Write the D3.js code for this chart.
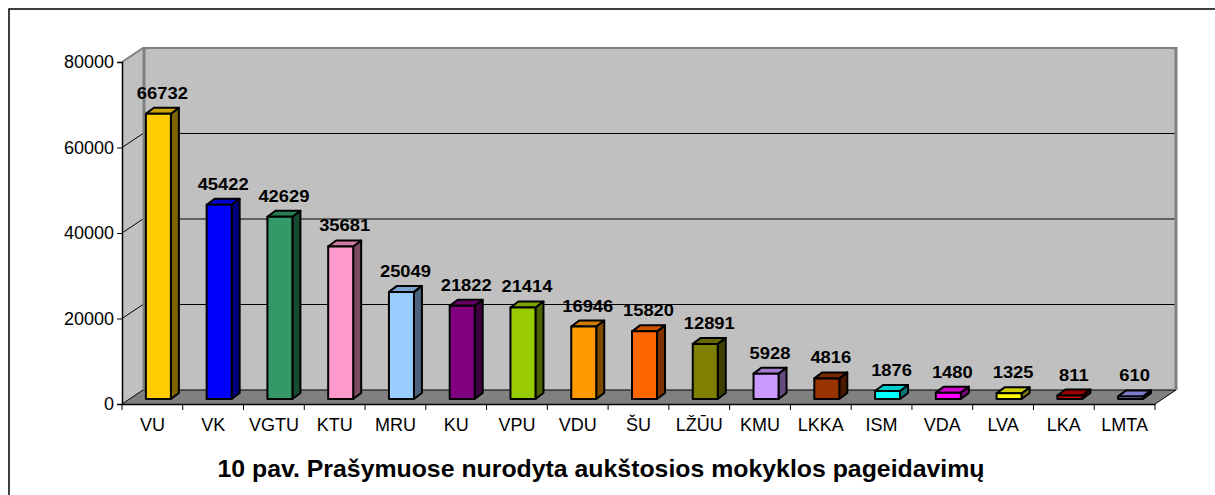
<!DOCTYPE html>
<html><head><meta charset="utf-8">
<script src="https://cdn.jsdelivr.net/npm/d3@7"></script>
<style>body{margin:0;background:#fff}svg{display:block}text{font-family:"Liberation Sans",Arial,sans-serif}</style>
</head><body><svg width="1215" height="495"></svg>
<script>
const categories = ["VU","VK","VGTU","KTU","MRU","KU","VPU","VDU","ŠU","LŽŪU","KMU","LKKA","ISM","VDA","LVA","LKA","LMTA"];
const values = [66732,45422,42629,35681,25049,21822,21414,16946,15820,12891,5928,4816,1876,1480,1325,811,610];
const colors = ["#FFCC00","#0000FF","#339966","#FF99CC","#99CCFF","#800080","#99CC00","#FF9900","#FF6600","#808000","#CC99FF","#993300","#00FFFF","#FF00FF","#FFFF00","#C00000","#9999FF"];
const yTicks = [0,20000,40000,60000,80000];
const title = "10 pav. Prašymuose nurodyta aukštosios mokyklos pageidavimų";

const svg = d3.select("svg");
const L = 122, R = 1155, T = 62, B = 404;
const DX = 21, DY = -14;      // wall depth
const BFX = 6, BFY = -5;      // bar front offset
const BDX = 8, BDY = -6;      // bar depth

const x = d3.scaleBand().domain(categories).range([L, R]).padding(0);
const y = d3.scaleLinear().domain([0, 80000]).range([B, T]);

// outer frame
svg.append("rect").attr("x", 9).attr("y", 9).attr("width", 1300).attr("height", 600)
  .attr("fill", "none").attr("stroke", "#000").attr("stroke-width", 1.5);

// side wall
svg.append("path").attr("d", `M${L},${T}L${L+DX},${T+DY}L${L+DX},${B+DY}L${L},${B}Z`).attr("fill", "#C0C0C0");
// back wall
svg.append("rect").attr("x", L+DX).attr("y", T+DY).attr("width", R-L).attr("height", B-T).attr("fill", "#C0C0C0");
// floor
svg.append("path").attr("d", `M${L},${B}L${L+DX},${B+DY}L${R+DX},${B+DY}L${R},${B}Z`).attr("fill", "#808080");

// gridlines
yTicks.forEach(v => {
  if (v === 80000) return;
  const yy = y(v);
  svg.append("line").attr("x1", L+DX).attr("x2", R+DX).attr("y1", yy+DY).attr("y2", yy+DY).attr("stroke", "#000").attr("stroke-width", 1);
  svg.append("line").attr("x1", L).attr("x2", L+DX).attr("y1", yy).attr("y2", yy+DY).attr("stroke", "#000").attr("stroke-width", 1);
});
// wall edges
svg.append("path").attr("d", `M${L},${T}L${L+DX},${T+DY}L${R+DX},${T+DY}`).attr("fill", "none").attr("stroke", "#808080").attr("stroke-width", 2);
svg.append("line").attr("x1", L+DX+1).attr("x2", L+DX+1).attr("y1", T+DY).attr("y2", B+DY).attr("stroke", "#808080").attr("stroke-width", 3);
svg.append("line").attr("x1", R+DX).attr("x2", R+DX).attr("y1", T+DY-1).attr("y2", B+DY).attr("stroke", "#808080").attr("stroke-width", 3);
svg.append("line").attr("x1", R+DX).attr("x2", R).attr("y1", B+DY).attr("y2", B).attr("stroke", "#000").attr("stroke-width", 1);

// bars
const bw = 25;
const g = svg.append("g");
categories.forEach((c, i) => {
  const v = values[i];
  const x0 = x(c) + (x.bandwidth() - bw) / 2 + BFX;
  const yb = y(0) + BFY, yt = y(v) + BFY;
  const col = d3.color(colors[i]);
  const gg = g.append("g").attr("stroke", "#000").attr("stroke-width", 2).attr("stroke-linejoin", "round");
  gg.append("path").attr("d", `M${x0+bw},${yt}L${x0+bw+BDX},${yt+BDY}L${x0+bw+BDX},${yb+BDY}L${x0+bw},${yb}Z`).attr("fill", col.darker(2).formatHex());
  gg.append("path").attr("d", `M${x0},${yt}L${x0+BDX},${yt+BDY}L${x0+bw+BDX},${yt+BDY}L${x0+bw},${yt}Z`).attr("fill", col.darker(0.6).formatHex());
  gg.append("rect").attr("x", x0).attr("y", yt).attr("width", bw).attr("height", yb - yt).attr("fill", colors[i]);
  const lx = x0 + bw/2 + 4, ly = yt + BDY - 9;
  svg.append("text").attr("transform", `translate(${lx},${ly}) scale(1.08,1)`)
    .attr("text-anchor", "middle").attr("font-size", 17).attr("font-weight", "bold").attr("fill", "#000").text(d3.format("d")(v));
});

// y axis
const ya = svg.append("g").attr("transform", `translate(${L},0)`)
  .call(d3.axisLeft(y).tickValues(yTicks).tickSize(5).tickPadding(3).tickFormat(d3.format("d")));
ya.select(".domain").attr("stroke", "#000").attr("stroke-width", 1.5);
ya.selectAll("line").attr("stroke", "#000");
ya.selectAll("text").attr("font-size", 18).attr("font-family", "Liberation Sans, Arial, sans-serif").attr("fill", "#000");

// x axis
const xa = svg.append("g").attr("transform", `translate(0,${B})`)
  .call(d3.axisBottom(x).tickSize(0).tickPadding(14));
xa.select(".domain").attr("stroke", "#000").attr("stroke-width", 1.5);
xa.selectAll("text").attr("font-size", 18).attr("font-family", "Liberation Sans, Arial, sans-serif").attr("fill", "#000");
const bounds = categories.map(c => x(c)).concat([x(categories[categories.length-1]) + x.bandwidth()]);
svg.append("g").selectAll("line").data(bounds).join("line")
  .attr("x1", d => d).attr("x2", d => d).attr("y1", B).attr("y2", B + 6).attr("stroke", "#000");

// title
svg.append("text").attr("x", 601).attr("y", 477).attr("text-anchor", "middle")
  .attr("font-size", 24).attr("font-weight", "bold").attr("textLength", 767).attr("lengthAdjust", "spacingAndGlyphs").text(title);
</script></body></html>
